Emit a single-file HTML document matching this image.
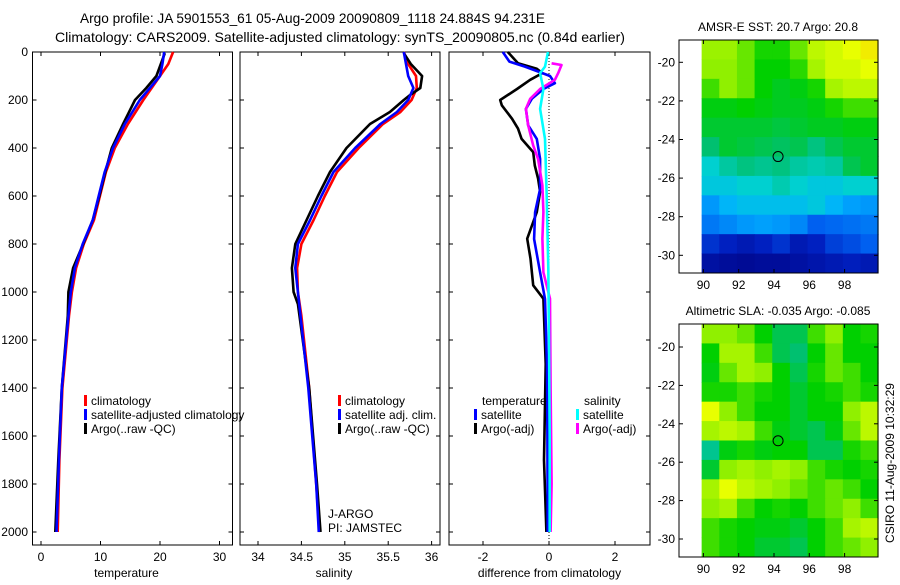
<!DOCTYPE html>
<html><head><meta charset="utf-8"><style>
body{margin:0;background:#fff;}
svg text{font-family:"Liberation Sans",sans-serif;}
</style></head><body>
<svg id="fig" width="900" height="580" viewBox="0 0 900 580" xmlns="http://www.w3.org/2000/svg">
<rect width="900" height="580" fill="#fff"/>
<text x="80" y="23" font-size="14" textLength="465" lengthAdjust="spacingAndGlyphs">Argo profile: JA 5901553_61 05-Aug-2009 20090809_1118 24.884S 94.231E</text>
<text x="55" y="42" font-size="14" textLength="570" lengthAdjust="spacingAndGlyphs">Climatology: CARS2009. Satellite-adjusted climatology: synTS_20090805.nc (0.84d earlier)</text>
<g id="plots"></g>
</svg>
<script>
// ---- data ----
const tempClimD=[0,50,100,200,300,400,500,600,700,800,900,1000,1100,1400,1700,2000];
const tempClimV=[22.2,21.4,20.0,17.2,14.6,12.4,10.9,9.9,8.9,7.2,5.9,5.2,4.7,3.6,3.1,2.8];
const tempSatD=[0,50,100,200,300,400,500,600,700,800,900,1000,1100,1400,1700,2000];
const tempSatV=[20.7,20.4,20.0,16.6,14.1,12.1,10.7,9.7,8.7,7.0,5.7,5.0,4.6,3.5,3.0,2.6];
const tempArgoD=[5,100,150,200,300,400,500,600,700,800,900,1000,1100,1400,1700,2000];
const tempArgoV=[20.8,19.4,17.7,15.8,13.8,11.9,10.8,9.8,8.7,7.1,5.4,4.6,4.5,3.5,2.9,2.4];
const salClimD=[0,50,100,150,200,250,300,400,500,600,700,800,900,1000,1100,1400,1800,2000];
const salClimV=[35.68,35.73,35.82,35.83,35.77,35.64,35.44,35.16,34.91,34.77,34.64,34.50,34.45,34.46,34.50,34.59,34.67,34.71];
const salSatD=[0,100,150,200,250,300,400,500,600,700,800,900,1000,1100,1400,1800,2000];
const salSatV=[35.68,35.73,35.79,35.73,35.60,35.41,35.12,34.87,34.73,34.60,34.46,34.43,34.46,34.49,34.58,34.67,34.70];
const salArgoD=[5,50,100,150,180,200,250,300,400,500,600,700,800,900,1000,1050,1400,1800,2000];
const salArgoV=[35.68,35.76,35.89,35.87,35.75,35.68,35.52,35.29,35.02,34.83,34.69,34.56,34.43,34.39,34.41,34.46,34.59,34.68,34.72];
const dTsatD=[0,40,61,88,100,130,154,195,237,306,362,446,571,668,779,918,1029,1300,1600,2000];
const dTsatV=[-1.4,-1.2,-0.73,-0.2,0.03,0.18,-0.17,-0.52,-0.7,-0.63,-0.37,-0.27,-0.27,-0.42,-0.45,-0.27,-0.12,-0.06,-0.05,-0.04];
const dTargoD=[0,47,70,88,116,154,200,222,278,319,362,417,473,528,583,667,778,861,972,1028,1300,1700,2000];
const dTargoV=[-1.25,-0.94,-0.37,-0.2,-0.57,-0.97,-1.48,-1.43,-1.12,-0.94,-0.83,-0.48,-0.43,-0.33,-0.27,-0.37,-0.66,-0.56,-0.48,-0.17,-0.1,-0.15,-0.08];
const dSargoD=[47,54,88,116,154,195,237,306,389,446,556,667,778,918,1028,1400,1800,2000];
const dSargoV=[0.08,0.38,0.28,0.18,-0.27,-0.57,-0.7,-0.63,-0.48,-0.33,-0.2,-0.17,-0.2,-0.17,0.03,0.05,0.08,0.05];
const dSsatD=[0,61,88,154,237,362,600,900,1200,1600,2000];
const dSsatV=[-0.03,-0.12,-0.27,-0.17,-0.27,-0.12,-0.07,-0.02,0.0,0.02,0.02];
const depthTicks=[0,200,400,600,800,1000,1200,1400,1600,1800,2000];
const tempTicks=[0,10,20,30];
const salTicks=[34,34.5,35,35.5,36];
const salTickLabels=["34","34.5","35","35.5","36"];
const diffTicks=[-2,0,2];
const latTicks=[-20,-22,-24,-26,-28,-30];
const lonTicks=[90,92,94,96,98];
const sstGrid=[
[.63,.63,.60,.56,.56,.60,.66,.68,.70,.74],
[.62,.62,.60,.55,.55,.57,.64,.68,.68,.70],
[.58,.62,.60,.55,.53,.54,.56,.64,.66,.66],
[.54,.54,.55,.54,.53,.53,.54,.56,.58,.58],
[.52,.52,.52,.52,.51,.52,.53,.53,.54,.54],
[.48,.52,.51,.50,.49,.50,.47,.50,.52,.52],
[.42,.45,.47,.46,.47,.45,.44,.45,.50,.52],
[.40,.40,.42,.42,.44,.42,.40,.40,.42,.42],
[.32,.36,.38,.38,.38,.38,.40,.36,.33,.32],
[.28,.30,.32,.33,.32,.30,.25,.26,.27,.28],
[.18,.15,.12,.15,.18,.12,.15,.20,.22,.25],
[.08,.06,.05,.06,.06,.08,.10,.12,.14,.12]];
const slaGrid=[
[.62,.62,.60,.55,.50,.50,.58,.62,.55,.56],
[.55,.64,.64,.58,.50,.48,.55,.60,.55,.55],
[.54,.60,.64,.62,.55,.50,.56,.60,.58,.55],
[.56,.56,.58,.56,.55,.52,.55,.56,.58,.56],
[.70,.62,.58,.55,.55,.52,.55,.55,.62,.66],
[.64,.66,.64,.58,.54,.52,.50,.54,.60,.66],
[.46,.54,.56,.54,.55,.55,.50,.50,.56,.58],
[.52,.62,.64,.62,.64,.62,.58,.56,.55,.56],
[.64,.70,.66,.64,.62,.60,.58,.60,.58,.55],
[.62,.64,.58,.55,.56,.55,.58,.60,.62,.58],
[.58,.56,.55,.54,.54,.52,.55,.58,.64,.66],
[.58,.56,.55,.52,.52,.50,.55,.58,.60,.62]];
const floatLon=94.231, floatLat=-24.884;

// ---- helpers ----
const NS="http://www.w3.org/2000/svg";
const root=document.getElementById('plots');
function mk(tag,attrs,parent){const e=document.createElementNS(NS,tag);for(const k in attrs)e.setAttribute(k,attrs[k]);(parent||root).appendChild(e);return e;}
const yD=d=>52+d*0.24;
const panels=[
 {x0:32.5,x1:232.5,fx:v=>41+5.95*v,ticks:tempTicks,labels:tempTicks.map(String),xlabel:"temperature",name:"temperature-panel"},
 {x0:240,x1:440,fx:v=>258+(v-34)*86.8,ticks:salTicks,labels:salTickLabels,xlabel:"salinity",name:"salinity-panel"},
 {x0:449,x1:650,fx:v=>549+33*v,ticks:diffTicks,labels:diffTicks.map(String),xlabel:"difference from climatology",name:"difference-panel"}];
panels.forEach((p,i)=>{
 const g=mk('g',{});
 
 
 const r=mk('rect',{x:p.x0,y:52,width:p.x1-p.x0,height:493,fill:'none',stroke:'#000','stroke-width':1},g);
 
 
 depthTicks.forEach(d=>{
  mk('line',{x1:p.x0,x2:p.x0+4,y1:yD(d),y2:yD(d),stroke:'#000'},g);
  mk('line',{x1:p.x1,x2:p.x1-4,y1:yD(d),y2:yD(d),stroke:'#000'},g);
  if(i===0){const t=mk('text',{x:28,y:yD(d)+4,'font-size':12,'text-anchor':'end'},g);t.textContent=d;
   
   }
 });
 p.ticks.forEach((v,k)=>{
  const x=p.fx(v);
  mk('line',{x1:x,x2:x,y1:545,y2:541,stroke:'#000'},g);
  mk('line',{x1:x,x2:x,y1:52,y2:56,stroke:'#000'},g);
  const t=mk('text',{x:x,y:561,'font-size':12,'text-anchor':'middle'},g);t.textContent=p.labels[k];
  
  
 });
 const xl=mk('text',{x:(p.x0+p.x1)/2-(i==2?0:6),y:577,'font-size':12,'text-anchor':'middle'},g);xl.textContent=p.xlabel;
 
 
});
function line(D,V,fx,color,name){
 const pts=D.map((d,k)=>fx(V[k]).toFixed(1)+','+yD(d).toFixed(1)).join(' ');
 const e=mk('polyline',{points:pts,fill:'none',stroke:color,'stroke-width':2.6,'stroke-linejoin':'round'});
 
 
}
const zl=mk('line',{x1:549,x2:549,y1:52,y2:545,stroke:'#000','stroke-dasharray':'1,2'});


line(tempClimD,tempClimV,panels[0].fx,'#f00','temp-climatology-line');
line(tempArgoD,tempArgoV,panels[0].fx,'#000','temp-argo-line');
line(tempSatD,tempSatV,panels[0].fx,'#00f','temp-satellite-line');
line(salClimD,salClimV,panels[1].fx,'#f00','sal-climatology-line');
line(salArgoD,salArgoV,panels[1].fx,'#000','sal-argo-line');
line(salSatD,salSatV,panels[1].fx,'#00f','sal-satellite-line');
line(dTargoD,dTargoV,panels[2].fx,'#000','diff-temp-argo-line');
line(dTsatD,dTsatV,panels[2].fx,'#00f','diff-temp-satellite-line');
line(dSargoD,dSargoV,panels[2].fx,'#f0f','diff-sal-argo-line');
line(dSsatD,dSsatV,panels[2].fx,'#0ff','diff-sal-satellite-line');

function legend(x,y,color,label){
 const g=mk('g',{});
 
 
 mk('rect',{x:x,y:y-10,width:3,height:11,fill:color},g);
 const t=mk('text',{x:x+7,y:y,'font-size':12},g);t.textContent=label;
}
legend(84,405,'#f00','climatology');
legend(84,419,'#00f','satellite-adjusted climatology');
legend(84,433,'#000','Argo(..raw -QC)');
legend(338,405,'#f00','climatology');
legend(338,419,'#00f','satellite adj. clim.');
legend(338,433,'#000','Argo(..raw -QC)');
let t=mk('text',{x:482,y:405,'font-size':12});t.textContent='temperature';


t=mk('text',{x:584,y:405,'font-size':12});t.textContent='salinity';


legend(474,419,'#00f','satellite');
legend(474,433,'#000','Argo(-adj)');
legend(576,419,'#0ff','satellite');
legend(576,433,'#f0f','Argo(-adj)');
t=mk('text',{x:328,y:518,'font-size':12});t.textContent='J-ARGO';


t=mk('text',{x:328,y:532,'font-size':12});t.textContent='PI: JAMSTEC';



// ---- maps ----
const stops=[[0,'#000080'],[.15,'#0020c0'],[.25,'#0060f0'],[.35,'#00b0ff'],[.42,'#00d0d0'],[.48,'#00c070'],[.55,'#00d000'],[.62,'#90f000'],[.70,'#e8ff00'],[.8,'#ffd000'],[1,'#ff8000']];
function hex(h){return [1,3,5].map(i=>parseInt(h.substr(i,2),16));}
function cmap(v){for(let i=1;i<stops.length;i++){if(v<=stops[i][0]){const a=stops[i-1],b=stops[i];const f=(v-a[0])/(b[0]-a[0]);const ca=hex(a[1]),cb=hex(b[1]);return 'rgb('+ca.map((c,k)=>Math.round(c+(cb[k]-c)*f)).join(',')+')';}}return stops[stops.length-1][1];}
function map(top,lat20,lat30,grid,title,name){
 const g=mk('g',{});
 
 
 const ppd=(lat30-lat20)/10;
 const fx=lon=>774+(lon-94)*17.65;
 const fy=lat=>lat20-(lat+20)*ppd;
 const bottom=top+233;
 const latTop=-20+(lat20-top)/ppd, latBot=-20-(bottom-lat20)/ppd;
 const rows=grid.length, cols=grid[0].length;
 const lon0=89.9, lon1=99.9;
 for(let r=0;r<rows;r++)for(let c=0;c<cols;c++){
  const la=latTop+(latBot-latTop)*r/rows, lb=latTop+(latBot-latTop)*(r+1)/rows;
  const x=fx(lon0+(lon1-lon0)*c/cols), x2=fx(lon0+(lon1-lon0)*(c+1)/cols);
  const cell=mk('rect',{x:x,y:fy(la),width:x2-x+0.5,height:fy(lb)-fy(la)+0.5,fill:cmap(grid[r][c])},g);
  
  
 }
 mk('rect',{x:679,y:top,width:199,height:233,fill:'none',stroke:'#000'},g);
 latTicks.forEach(v=>{const y=fy(v);mk('line',{x1:679,x2:683,y1:y,y2:y,stroke:'#000'},g);mk('line',{x1:878,x2:874,y1:y,y2:y,stroke:'#000'},g);
  const tt=mk('text',{x:675,y:y+4,'font-size':12,'text-anchor':'end'},g);tt.textContent=v;
  
  });
 lonTicks.forEach(v=>{const x=fx(v);mk('line',{x1:x,x2:x,y1:bottom,y2:bottom-4,stroke:'#000'},g);mk('line',{x1:x,x2:x,y1:top,y2:top+4,stroke:'#000'},g);
  const tt=mk('text',{x:x,y:bottom+16,'font-size':12,'text-anchor':'middle'},g);tt.textContent=v;
  
  });
 const c=mk('ellipse',{cx:fx(floatLon),cy:fy(floatLat),rx:5,ry:5,fill:'none',stroke:'#000','stroke-width':1},g);
 
 
 const tt=mk('text',{x:778,y:top-9,'font-size':12,'text-anchor':'middle'},g);tt.textContent=title;
 
 
}
map(40,62.3,255.3,sstGrid,'AMSR-E SST: 20.7 Argo: 20.8','sst-map');
map(324,347,539,slaGrid,'Altimetric SLA: -0.035 Argo: -0.085','sla-map');
t=mk('text',{x:0,y:0,'font-size':12,'text-anchor':'middle',transform:'translate(894,463) rotate(-90)'});t.textContent='CSIRO 11-Aug-2009 10:32:29';


</script>
</body></html>
